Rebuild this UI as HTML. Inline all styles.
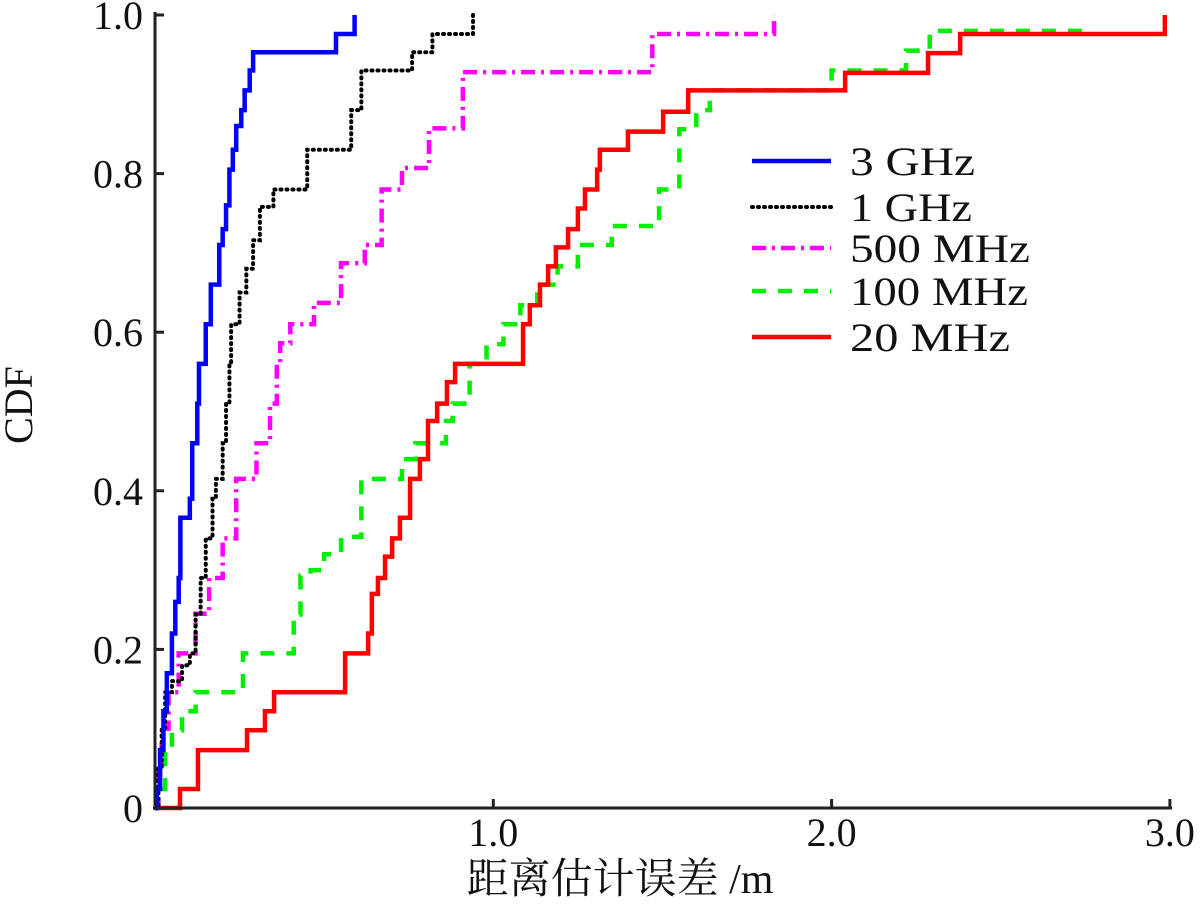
<!DOCTYPE html>
<html><head><meta charset="utf-8"><style>
html,body{margin:0;padding:0;background:#fff}
svg{display:block}
text{font-family:"Liberation Serif","Noto Serif CJK SC",serif;fill:#111}
</style></head><body>
<svg id="chart" width="1200" height="923" viewBox="0 0 1200 923" xmlns="http://www.w3.org/2000/svg">
<g id="series"></g>
<g id="axes"></g>
<g id="legend"></g>
<text x="0" y="0" transform="translate(32,405) rotate(-90)" text-anchor="middle" font-size="40">CDF</text>
<text x="620" y="893" text-anchor="middle" font-size="42">距离估计误差 /m</text>
</svg>
<script>
const seriesNames = ["3 GHz","1 GHz","500 MHz","100 MHz","20 MHz"];
const x3G = [0.005,0.015,0.025,0.035,0.05,0.06,0.07,0.075,0.103,0.11,0.125,0.13,0.15,0.165,0.19,0.2,0.21,0.22,0.23,0.24,0.255,0.265,0.28,0.29,0.535,0.59];
const y3G = [0.024,0.073,0.122,0.17,0.22,0.26,0.29,0.366,0.39,0.46,0.51,0.56,0.61,0.66,0.71,0.73,0.76,0.805,0.83,0.86,0.88,0.905,0.93,0.953,0.976,1.0];
const x1G = [0.01,0.02,0.03,0.05,0.08,0.103,0.12,0.135,0.15,0.17,0.18,0.2,0.21,0.22,0.225,0.25,0.27,0.29,0.31,0.35,0.45,0.58,0.61,0.76,0.82,0.94];
const y1G = [0.05,0.1,0.146,0.16,0.18,0.195,0.244,0.29,0.34,0.39,0.415,0.46,0.51,0.56,0.61,0.65,0.68,0.716,0.758,0.78,0.83,0.88,0.93,0.953,0.976,1.0];
const x500M = [0.01,0.02,0.04,0.07,0.12,0.16,0.2,0.24,0.3,0.34,0.36,0.37,0.4,0.47,0.55,0.62,0.67,0.73,0.81,0.91,1.47,1.83];
const y500M = [0.05,0.1,0.146,0.195,0.245,0.29,0.34,0.415,0.46,0.51,0.56,0.586,0.61,0.637,0.687,0.71,0.78,0.807,0.857,0.928,0.976,1.0];
const x100M = [0.01,0.03,0.05,0.08,0.12,0.26,0.41,0.43,0.46,0.5,0.55,0.61,0.73,0.77,0.86,0.88,0.93,0.98,1.03,1.08,1.13,1.19,1.25,1.35,1.49,1.55,1.6,1.64,2.0,2.22,2.29,2.74];
const y100M = [0.024,0.073,0.098,0.122,0.146,0.195,0.244,0.293,0.3,0.32,0.342,0.415,0.44,0.46,0.488,0.51,0.56,0.585,0.61,0.634,0.66,0.683,0.71,0.734,0.78,0.856,0.88,0.905,0.93,0.955,0.98,0.99];
const x20M = [0.074,0.127,0.272,0.325,0.352,0.562,0.63,0.641,0.659,0.68,0.701,0.724,0.754,0.783,0.807,0.834,0.863,0.887,1.088,1.108,1.138,1.162,1.185,1.221,1.25,1.271,1.307,1.315,1.398,1.502,1.558,1.576,2.04,2.285,2.38,2.985];
const y20M = [0.024,0.073,0.098,0.122,0.146,0.195,0.22,0.27,0.29,0.317,0.34,0.366,0.415,0.44,0.488,0.51,0.537,0.56,0.61,0.634,0.66,0.683,0.707,0.73,0.756,0.78,0.805,0.83,0.853,0.878,0.878,0.905,0.927,0.952,0.976,1.0];
const yTicks = [0,0.2,0.4,0.6,0.8,1.0];
const yTickLabels = ["0","0.2","0.4","0.6","0.8","1.0"];
const xTicks = [1,2,3];
const xTickLabels = ["1.0","2.0","3.0"];

const X0=155, XS=338.3, Y0=808, YS=793;
function sx(v){return X0+v*XS;}
function sy(v){return Y0-v*YS;}
const NS="http://www.w3.org/2000/svg";
function mk(tag,attrs,parent){const e=document.createElementNS(NS,tag);for(const k in attrs)e.setAttribute(k,attrs[k]);parent.appendChild(e);return e;}

const styles=[
 {c:"#0000ff",d:"",w:4.5,lc:"butt",slug:"3ghz",tl:125},
 {c:"#000000",d:"1 5",w:4,lc:"round",slug:"1ghz",tl:122},
 {c:"#ff00ff",d:"14 6 3 6",w:4.5,lc:"butt",slug:"500mhz",tl:180},
 {c:"#00ee00",d:"14 12",w:4.5,lc:"butt",slug:"100mhz",tl:178},
 {c:"#ff0000",d:"",w:4.5,lc:"butt",slug:"20mhz",tl:160}];
const xsAll=[x3G,x1G,x500M,x100M,x20M], ysAll=[y3G,y1G,y500M,y100M,y20M];
const sg=document.getElementById("series");
const order=[3,4,2,1,0];
order.forEach(i=>{
  const xs=xsAll[i], ys=ysAll[i];
  let d="M"+sx(0)+","+sy(0);
  let prevY=0;
  for(let k=0;k<xs.length;k++){
    d+=" L"+sx(xs[k])+","+sy(prevY)+" L"+sx(xs[k])+","+sy(ys[k]);
    prevY=ys[k];
  }
  const p=mk("path",{d:d,fill:"none",stroke:styles[i].c,"stroke-width":styles[i].w,"stroke-dasharray":styles[i].d,"stroke-linecap":styles[i].lc,"stroke-linejoin":"miter"},sg);
  
  
});

const ax=document.getElementById("axes");
const la=mk("line",{x1:X0,y1:12,x2:X0,y2:Y0+1,stroke:"#222","stroke-width":3},ax);


const ba=mk("line",{x1:X0-1,y1:Y0,x2:1172,y2:Y0,stroke:"#222","stroke-width":3},ax);


yTicks.forEach((v,k)=>{
  const t=mk("line",{x1:X0,y1:sy(v),x2:X0+9,y2:sy(v),stroke:"#222","stroke-width":3},ax);
  
  
  const l=mk("text",{x:143,y:sy(v)+14,"text-anchor":"end","font-size":40},ax);
  l.textContent=yTickLabels[k];
  
  
});
xTicks.forEach((v,k)=>{
  const t=mk("line",{x1:sx(v),y1:Y0,x2:sx(v),y2:Y0-9,stroke:"#222","stroke-width":3},ax);
  
  
  const l=mk("text",{x:sx(v),y:846,"text-anchor":"middle","font-size":40},ax);
  l.textContent=xTickLabels[k];
  
  
});

const lg=document.getElementById("legend");
const ly=[161,207,248,291,337];
seriesNames.forEach((n,i)=>{
  const g=mk("g",{},lg);
  
  
  mk("line",{x1:752,y1:ly[i],x2:831,y2:ly[i],stroke:styles[i].c,"stroke-width":styles[i].w,"stroke-dasharray":styles[i].d,"stroke-linecap":styles[i].lc},g);
  const t=mk("text",{x:850,y:ly[i]+14,"font-size":40,textLength:styles[i].tl,lengthAdjust:"spacingAndGlyphs"},g);
  t.textContent=n;
});
</script>
</body></html>
